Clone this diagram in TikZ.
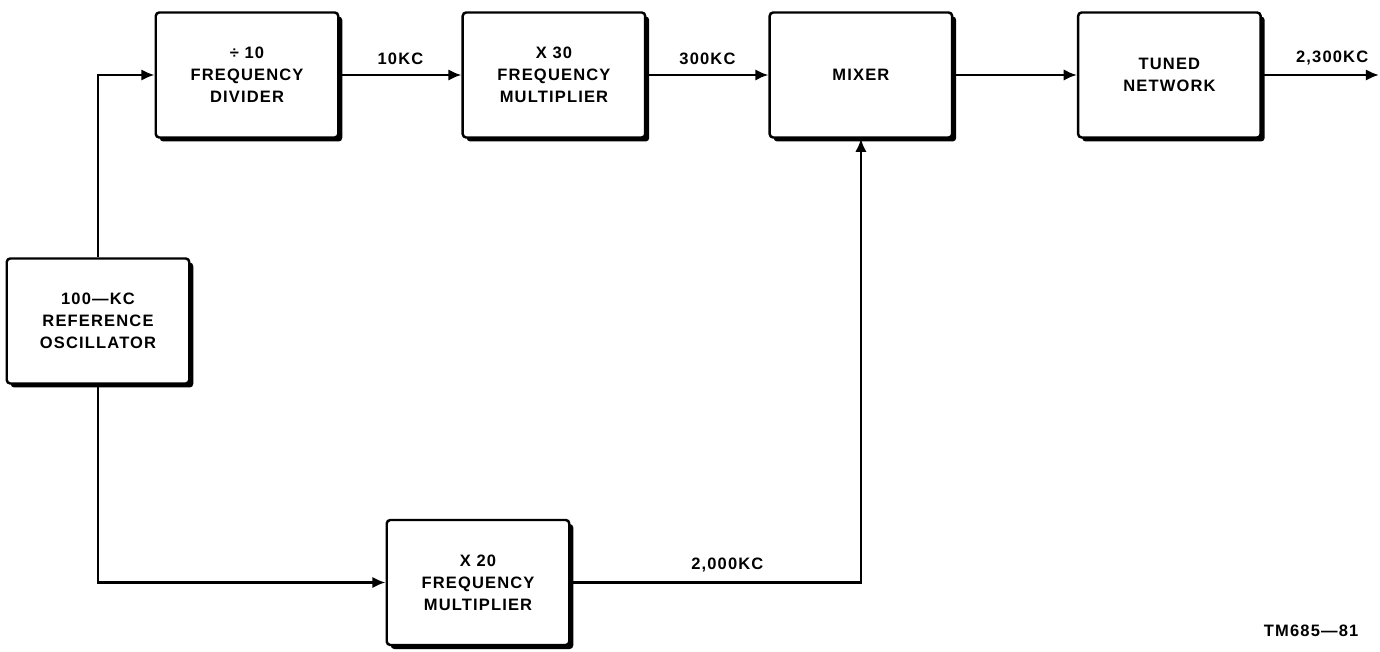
\documentclass[tikz,border=0pt]{standalone}
\usepackage{fontspec}
\newfontfamily\lettering[LetterSpace=7]{Liberation Sans}
\usetikzlibrary{positioning,shadows,arrows.meta}
\tikzset{block/.style={draw, fill=white, line width=1.4pt, rounded corners=2pt, minimum width=3.65cm, minimum height=2.5cm, align=center, font=\lettering\bfseries\fontsize{9.4}{12.5}\selectfont, drop shadow={shadow xshift=.08cm, shadow yshift=-.08cm, opacity=1, fill=black}}}
\tikzset{sigline/.style={-{Latex[length=7.5pt,width=6.5pt]}, line width=1.4pt}}
\tikzset{freq/.style={font=\lettering\bfseries\fontsize{9.4}{11}\selectfont, inner sep=5pt}}

\begin{document}
\begin{tikzpicture}
\useasboundingbox (0,0) rectangle (27.6,13.02);
\node[block] (osc) at (1.96,6.6) {100—KC\\REFERENCE\\OSCILLATOR};
\node[block] (div) at (4.94,11.52) {÷ 10\\FREQUENCY\\DIVIDER};
\node[block, right=2.44cm of div] (mulA) {X 30\\FREQUENCY\\MULTIPLIER};
\node[block, right=2.44cm of mulA] (mix) {MIXER};
\node[block, right=2.47cm of mix] (tun) {TUNED\\NETWORK};
\node[block] (mulB) at (9.56,1.37) {X 20\\FREQUENCY\\MULTIPLIER};
\coordinate (out) at (27.58,11.52);
\node[freq, anchor=south east] (tm) at (27.35,0.1) {TM685—81};
\draw[sigline] (osc.north) |- (div.west);
\draw[sigline] (osc.south) |- (mulB.west);
\draw[sigline] (div) -- node[freq, above] {10KC} (mulA);
\draw[sigline] (mulA) -- node[freq, above] {300KC} (mix);
\draw[sigline] (mix) -- (tun);
\draw[sigline] (tun) -- node[freq, above, pos=0.6] {2,300KC} (out);
\draw[sigline] (mulB.east) -| node[freq, above, pos=0.27] {2,000KC} (mix.south);
\end{tikzpicture}
\end{document}
